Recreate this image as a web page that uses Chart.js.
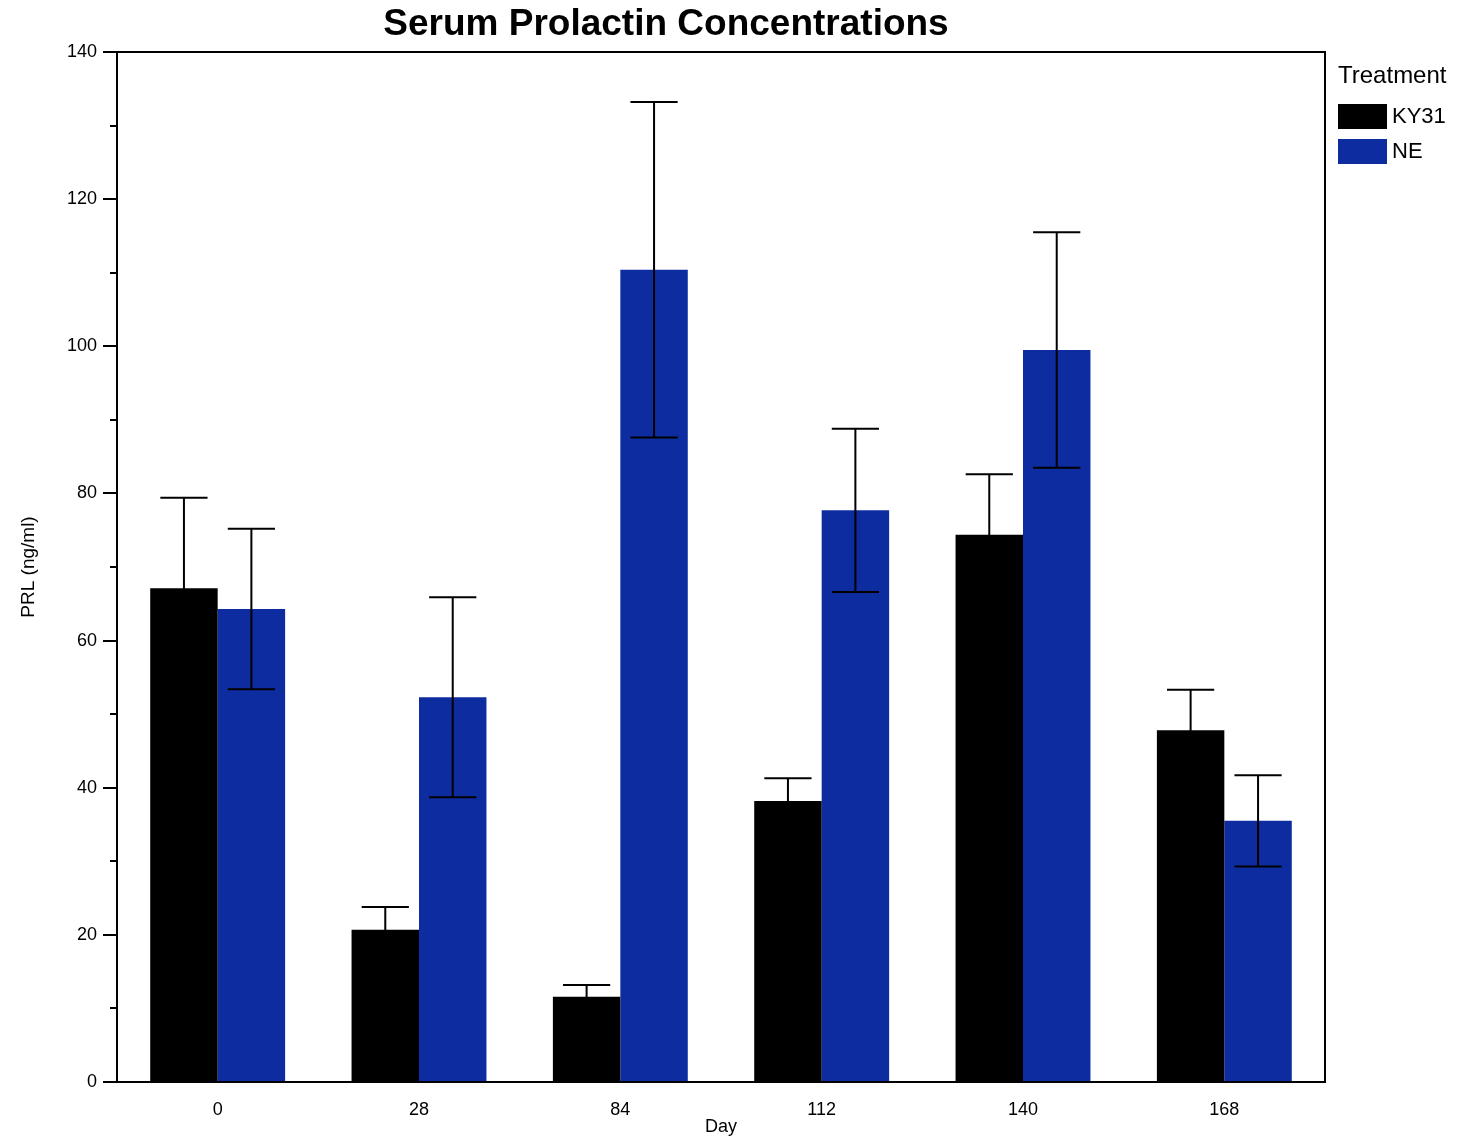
<!DOCTYPE html>
<html>
<head>
<meta charset="utf-8">
<title>Serum Prolactin Concentrations</title>
<script src="https://cdn.jsdelivr.net/npm/chart.js@4/dist/chart.umd.min.js"></script>
<style>
  html, body { margin: 0; padding: 0; background: #fff; }
  #wrap { width: 1463px; height: 1139px; position: relative; }
</style>
</head>
<body>
<div id="wrap"><canvas id="prlChart" width="1463" height="1139"></canvas></div>
<script>
// data
const days = ['0', '28', '84', '112', '140', '168'];
const ky31Mean = [67.1, 20.7, 11.6, 38.2, 74.4, 47.8];
const ky31Err = [12.3, 3.1, 1.6, 3.1, 8.2, 5.5];
const neMean = [64.3, 52.3, 110.4, 77.7, 99.5, 35.5];
const neErr = [10.9, 13.6, 22.8, 11.1, 16.0, 6.2];
const yTicks = [0, 20, 40, 60, 80, 100, 120, 140];

const FONT = "'Liberation Sans', Arial, Helvetica, sans-serif";
const BLUE = '#0c2c9f';

// error bars + frame + ticks + legend + title
const decorPlugin = {
  id: 'decor',
  afterDatasetsDraw(chart) {
    const ctx = chart.ctx;
    const y = chart.scales.y;
    ctx.save();
    ctx.strokeStyle = '#000';
    ctx.lineWidth = 2;
    chart.data.datasets.forEach((ds, i) => {
      const meta = chart.getDatasetMeta(i);
      meta.data.forEach((bar, j) => {
        const m = ds.data[j], e = ds.errors[j];
        const top = y.getPixelForValue(m + e);
        const bot = y.getPixelForValue(m - e);
        const half = bar.width * 0.35;
        ctx.beginPath();
        ctx.moveTo(bar.x, top); ctx.lineTo(bar.x, bot);
        ctx.moveTo(bar.x - half, top); ctx.lineTo(bar.x + half, top);
        ctx.moveTo(bar.x - half, bot); ctx.lineTo(bar.x + half, bot);
        ctx.stroke();
      });
    });
    ctx.restore();
  },
  afterDraw(chart) {
    const ctx = chart.ctx;
    const a = chart.chartArea;
    const y = chart.scales.y;
    ctx.save();
    // frame
    ctx.strokeStyle = '#000';
    ctx.lineWidth = 2;
    ctx.strokeRect(a.left, a.top, a.right - a.left, a.bottom - a.top);
    // y ticks, minor every 10
    ctx.beginPath();
    for (let v = 0; v <= 140; v += 10) {
      const py = Math.round(y.getPixelForValue(v));
      const len = v % 20 === 0 ? 14 : 7;
      ctx.moveTo(a.left - len, py);
      ctx.lineTo(a.left, py);
    }
    ctx.stroke();

    // title
    ctx.fillStyle = '#000';
    ctx.font = 'bold 37px ' + FONT;
    ctx.textAlign = 'center';
    ctx.textBaseline = 'middle';
    ctx.fillText('Serum Prolactin Concentrations', 666, 25);

    // legend
    const lx = a.right + 13;
    ctx.textAlign = 'left';
    ctx.font = '24px ' + FONT;
    ctx.fillText('Treatment', lx, 76);
    ctx.font = '22px ' + FONT;
    chart.data.datasets.forEach((ds, i) => {
      const cy = 116 + i * 35;
      ctx.fillStyle = ds.backgroundColor;
      ctx.fillRect(lx, cy - 12, 49, 25);
      ctx.fillStyle = '#000';
      ctx.fillText(ds.label, lx + 54, cy + 1);
    });
    ctx.restore();
  }
};

new Chart(document.getElementById('prlChart'), {
  type: 'bar',
  data: {
    labels: days,
    datasets: [
      { label: 'KY31', data: ky31Mean, errors: ky31Err, backgroundColor: '#000000' },
      { label: 'NE', data: neMean, errors: neErr, backgroundColor: BLUE }
    ]
  },
  options: {
    responsive: false,
    animation: false,
    devicePixelRatio: 1,
    layout: { padding: { top: 52, right: 138, bottom: 0, left: 0 } },
    datasets: { bar: { categoryPercentage: 0.67, barPercentage: 1.0 } },
    plugins: {
      legend: { display: false },
      title: { display: false },
      tooltip: { enabled: false }
    },
    scales: {
      x: {
        grid: { display: false },
        border: { display: false },
        ticks: { color: '#000', font: { family: FONT, size: 18 }, padding: 9 },
        title: { display: true, text: 'Day', color: '#000', font: { family: FONT, size: 18 }, padding: { top: 0, bottom: 1 } },
        afterFit(scale) { scale.height = 1139 - 1082; }
      },
      y: {
        min: 0,
        max: 140,
        afterBuildTicks(scale) { scale.ticks = yTicks.map(v => ({ value: v })); },
        grid: { drawOnChartArea: false, color: 'rgba(0,0,0,0)', tickLength: 14 },
        border: { display: false },
        ticks: { color: '#000', font: { family: FONT, size: 18 }, padding: 6 },
        title: { display: true, text: 'PRL (ng/ml)', color: '#000', font: { family: FONT, size: 19 }, padding: { top: 17, bottom: 4 } },
        afterFit(scale) { scale.width = 117; }
      }
    }
  },
  plugins: [decorPlugin]
});
</script>
</body>
</html>
